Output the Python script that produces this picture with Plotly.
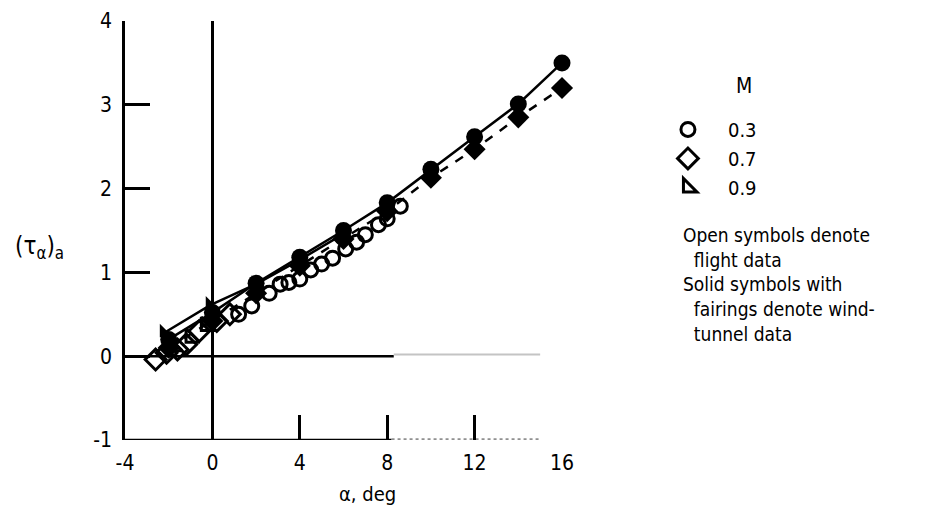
import plotly.graph_objects as go

# ---------------- data ----------------
# wind-tunnel data (solid symbols) with fairings
wt_m03_alpha = [-2, 0, 2, 4, 6, 8, 10, 12, 14, 16]
wt_m03_tau = [0.2, 0.52, 0.87, 1.18, 1.5, 1.83, 2.23, 2.62, 3.01, 3.5]

wt_m07_alpha = [-2, 0, 2, 4, 6, 8, 10, 12, 14, 16]
wt_m07_tau = [0.1, 0.42, 0.75, 1.08, 1.4, 1.73, 2.13, 2.47, 2.85, 3.2]

wt_m09_alpha = [-2.2, -0.1, 2, 4, 6]
wt_m09_tau = [0.28, 0.61, 0.86, 1.15, 1.46]

# flight data (open symbols)
fl_m03_alpha = [1.2, 1.8, 2.6, 3.1, 3.5, 4.0, 4.5, 5.0, 5.5, 6.1, 6.6, 7.0, 7.6, 8.0, 8.6]
fl_m03_tau = [0.5, 0.6, 0.75, 0.86, 0.88, 0.92, 1.03, 1.1, 1.17, 1.28, 1.36, 1.45, 1.57, 1.64, 1.79]

fl_m07_alpha = [-2.6, -2.1, -1.6, -1.2, -0.6, 0.2, 0.8]
fl_m07_tau = [-0.04, 0.04, 0.08, 0.14, 0.3, 0.42, 0.5]

fl_m09_alpha = [-1.8, -1.0, -0.3]
fl_m09_tau = [0.12, 0.22, 0.36]

mach_labels = ["0.3", "0.7", "0.9"]
x_ticks = [-4, 0, 4, 8, 12, 16]
y_ticks = [-1, 0, 1, 2, 3, 4]

FONT = "'DejaVu Sans Condensed', 'Liberation Sans Narrow', 'DejaVu Sans', Arial, sans-serif"
BLACK = "#000000"

fig = go.Figure()

# wind-tunnel data with fairings
fig.add_trace(go.Scatter(x=wt_m03_alpha, y=wt_m03_tau, mode="lines+markers",
                         line=dict(color=BLACK, width=2.5),
                         marker=dict(symbol="circle", size=17, color=BLACK),
                         showlegend=False, cliponaxis=False))
fig.add_trace(go.Scatter(x=wt_m07_alpha, y=wt_m07_tau, mode="lines+markers",
                         line=dict(color=BLACK, width=2.5, dash="dash"),
                         marker=dict(symbol="diamond", size=17, color=BLACK),
                         showlegend=False, cliponaxis=False))
fig.add_trace(go.Scatter(x=wt_m09_alpha, y=wt_m09_tau, mode="lines+markers",
                         line=dict(color=BLACK, width=2.5),
                         marker=dict(symbol="triangle-sw", size=15, color=BLACK),
                         showlegend=False, cliponaxis=False))

# flight data (these carry the legend)
fig.add_trace(go.Scatter(x=fl_m03_alpha, y=fl_m03_tau, mode="markers", name=mach_labels[0],
                         marker=dict(symbol="circle-open", size=14, color=BLACK, line=dict(width=3))))
fig.add_trace(go.Scatter(x=fl_m07_alpha, y=fl_m07_tau, mode="markers", name=mach_labels[1],
                         marker=dict(symbol="diamond-open", size=16, color=BLACK, line=dict(width=3))))
fig.add_trace(go.Scatter(x=fl_m09_alpha, y=fl_m09_tau, mode="markers", name=mach_labels[2],
                         marker=dict(symbol="triangle-sw-open", size=15, color=BLACK, line=dict(width=3))))

# reference lines (zero line and faded bottom axis)
fig.add_shape(type="line", xref="x", yref="y", x0=-4, x1=8.3, y0=0, y1=0,
              line=dict(color=BLACK, width=2.5), layer="below")
fig.add_shape(type="line", xref="x", yref="y", x0=8.3, x1=15, y0=0.02, y1=0.02,
              line=dict(color="#c4c4c4", width=2), layer="below")
fig.add_shape(type="line", xref="x", yref="y", x0=-4, x1=8.2, y0=-1, y1=-1,
              line=dict(color=BLACK, width=2.5), layer="below")
fig.add_shape(type="line", xref="x", yref="y", x0=8.2, x1=15, y0=-0.99, y1=-0.99,
              line=dict(color="#909090", width=2, dash="dot"), layer="below")

fig.update_xaxes(range=[-4, 16], tickvals=x_ticks, ticktext=[str(v) for v in x_ticks],
                 ticks="inside", ticklen=25, tickwidth=2.5, tickcolor=BLACK,
                 showline=False, showgrid=False, automargin=False,
                 zeroline=True, zerolinecolor=BLACK, zerolinewidth=2.5,
                 ticklabeloverflow="allow",
                 tickfont=dict(family=FONT, size=21, color=BLACK), ticklabelstandoff=8)
fig.update_yaxes(range=[-1, 4], tickvals=y_ticks, ticktext=[str(v) for v in y_ticks],
                 ticks="inside", ticklen=25, tickwidth=2.5, tickcolor=BLACK,
                 showline=True, linecolor=BLACK, linewidth=2.5, showgrid=False,
                 zeroline=False, automargin=False, ticklabeloverflow="allow",
                 tickfont=dict(family=FONT, size=21, color=BLACK), ticklabelstandoff=6)

fig.add_annotation(text="(τ<sub>α</sub>)<sub>a</sub>", xref="paper", yref="paper",
                   x=-0.195, y=0.46, xanchor="center", yanchor="middle", showarrow=False,
                   font=dict(family=FONT, size=24, color=BLACK))
fig.add_annotation(text="α, deg", xref="paper", yref="paper",
                   x=0.556, y=-0.129, xanchor="center", yanchor="middle", showarrow=False,
                   font=dict(family=FONT, size=20, color=BLACK))
fig.add_annotation(text="M", xref="paper", yref="paper",
                   x=1.4165, y=0.845, xanchor="center", yanchor="middle", showarrow=False,
                   font=dict(family=FONT, size=21, color=BLACK))
fig.add_annotation(text="Open symbols denote<br>\u00a0\u00a0flight data<br>Solid symbols with<br>"
                        "\u00a0\u00a0fairings denote wind-<br>\u00a0\u00a0tunnel data",
                   xref="paper", yref="paper", x=1.272, y=0.52, xanchor="left", yanchor="top",
                   align="left", showarrow=False,
                   font=dict(family=FONT, size=19, color=BLACK))

fig.update_layout(
    width=928, height=520,
    margin=dict(l=117, r=374, t=13, b=88),
    paper_bgcolor="white", plot_bgcolor="white",
    font=dict(family=FONT, color=BLACK),
    legend=dict(xref="container", yref="container", x=0.6896, y=0.804,
                xanchor="left", yanchor="top", itemwidth=70,
                font=dict(family=FONT, size=20, color=BLACK),
                bgcolor="rgba(0,0,0,0)", borderwidth=0, tracegroupgap=0),
)

fig.write_html("out.html")
